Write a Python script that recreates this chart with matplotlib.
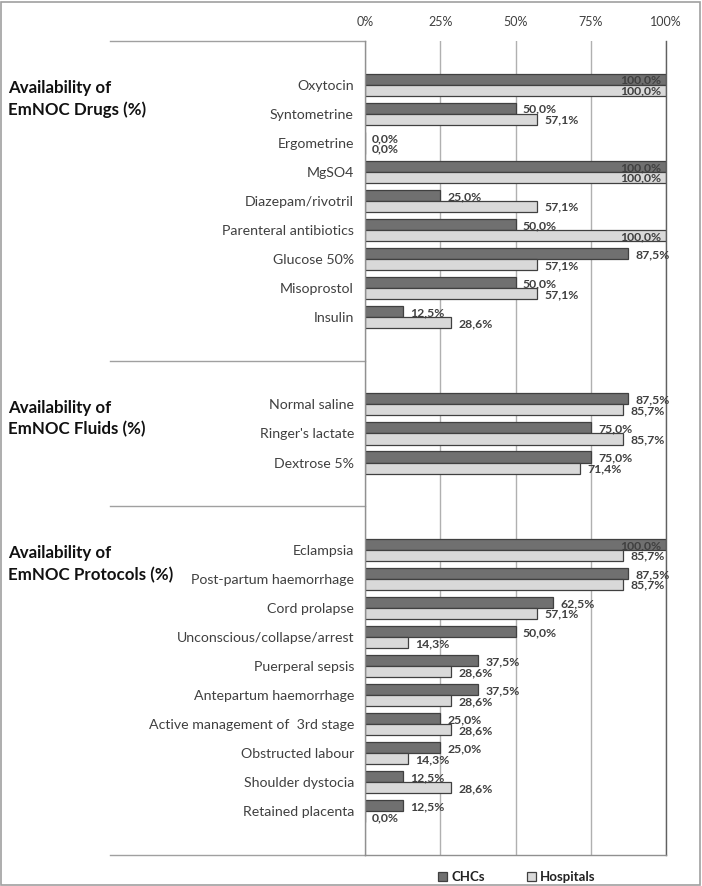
import matplotlib
matplotlib.use("Agg")
import matplotlib.pyplot as plt
from matplotlib.patches import Rectangle, Patch
from matplotlib.lines import Line2D

plt.rcParams['font.family'] = ['Lato', 'DejaVu Sans']

# ---- data ----
group_titles = ["Availability of\nEmNOC Drugs (%)",
                "Availability of\nEmNOC Fluids (%)",
                "Availability of\nEmNOC Protocols (%)"]

drugs = ["Oxytocin", "Syntometrine", "Ergometrine", "MgSO4", "Diazepam/rivotril",
         "Parenteral antibiotics", "Glucose 50%", "Misoprostol", "Insulin"]
drugs_chc = [100.0, 50.0, 0.0, 100.0, 25.0, 50.0, 87.5, 50.0, 12.5]
drugs_hosp = [100.0, 57.1, 0.0, 100.0, 57.1, 100.0, 57.1, 57.1, 28.6]

fluids = ["Normal saline", "Ringer's lactate", "Dextrose 5%"]
fluids_chc = [87.5, 75.0, 75.0]
fluids_hosp = [85.7, 85.7, 71.4]

protocols = ["Eclampsia", "Post-partum haemorrhage", "Cord prolapse",
             "Unconscious/collapse/arrest", "Puerperal sepsis", "Antepartum haemorrhage",
             "Active management of  3rd stage", "Obstructed labour", "Shoulder dystocia",
             "Retained placenta"]
protocols_chc = [100.0, 87.5, 62.5, 50.0, 37.5, 37.5, 25.0, 25.0, 12.5, 12.5]
protocols_hosp = [85.7, 85.7, 57.1, 14.3, 28.6, 28.6, 28.6, 14.3, 28.6, 0.0]

series_names = ["CHCs", "Hospitals"]
xticks = [0, 25, 50, 75, 100]
xtick_labels = ["0%", "25%", "50%", "75%", "100%"]

groups = [(drugs, drugs_chc, drugs_hosp),
          (fluids, fluids_chc, fluids_hosp),
          (protocols, protocols_chc, protocols_hosp)]

# ---- layout of slots ----
W, H = 702, 886
fig = plt.figure(figsize=(W / 100, H / 100), dpi=100)
ax_left, ax_right, ax_top, ax_bot = 365, 666, 41, 855
ax = fig.add_axes([ax_left / W, 1 - ax_bot / H, (ax_right - ax_left) / W, (ax_bot - ax_top) / H])

dark = "#707070"
light = "#d9d9d9"
edge = "#404040"
txt = "#404040"
bh = 0.38
vfs = 8.8


def fmt(v):
    return f"{v:.1f}%".replace(".", ",")


def label(v, yy):
    if v >= 99:
        ax.text(98.3, yy, fmt(v), ha="right", va="center",
                fontsize=vfs, fontweight="bold", color=txt)
    else:
        ax.text(v + 2.4, yy, fmt(v), ha="left", va="center",
                fontsize=vfs, fontweight="bold", color=txt)


slot = 1
separators = []
all_pos, all_lab = [], []
title_pos = []
for gi, (cats, chc, hosp) in enumerate(groups):
    pos = list(range(slot, slot + len(cats)))
    title_pos.append(pos[0] + 0.5)
    ax.barh([p - bh / 2 for p in pos], chc, height=bh, color=dark, edgecolor=edge, linewidth=0.9)
    ax.barh([p + bh / 2 for p in pos], hosp, height=bh, color=light, edgecolor=edge, linewidth=0.9)
    for p, v in zip(pos, chc):
        label(v, p - bh / 2 + 0.04)
    for p, v in zip(pos, hosp):
        label(v, p + bh / 2 + 0.03)
    all_pos += pos
    all_lab += cats
    slot = pos[-1] + 3
    if gi < len(groups) - 1:
        separators.append(pos[-1] + 1.5)

n_slots = slot - 1
ax.set_ylim(n_slots - 0.5, -0.5)
ax.set_xlim(0, 100)

ax.set_yticks(all_pos)
ax.set_yticklabels(all_lab, fontsize=10.2, color=txt)
ax.tick_params(axis="y", length=0, pad=8)

ax.xaxis.tick_top()
ax.set_xticks(xticks)
ax.set_xticklabels(xtick_labels, fontsize=9, color=txt)
ax.tick_params(axis="x", length=0, pad=9)
ax.grid(axis="x", color="#b0b0b0", linewidth=1.0)
ax.set_axisbelow(True)

ax.spines["top"].set_visible(False)
ax.spines["left"].set_color("#909090")
ax.spines["bottom"].set_color("#909090")
ax.spines["right"].set_color("#606060")
for s in ["left", "bottom", "right"]:
    ax.spines[s].set_linewidth(1.0)

# group separator lines extending into the label area
x0 = (110 - ax_left) / (ax_right - ax_left)
trans = ax.get_yaxis_transform()
for yv in [-0.5] + separators + [n_slots - 0.5]:
    ax.add_line(Line2D([x0, 0], [yv, yv], transform=trans, color="#a0a0a0",
                       linewidth=1.0, clip_on=False))

# group titles
tx = (8 - ax_left) / (ax_right - ax_left)
for t, yp in zip(group_titles, title_pos):
    ax.text(tx, yp, t, transform=trans, ha="left", va="center", fontsize=12.2,
            fontweight="bold", color="#111111", linespacing=1.4)

# legend
handles = [Patch(facecolor=dark, edgecolor=edge, linewidth=0.9),
           Patch(facecolor=light, edgecolor=edge, linewidth=0.9)]
leg = fig.legend(handles, series_names, loc="center", bbox_to_anchor=(0.736, 1 - 877 / H),
                 ncol=2, frameon=False, handlelength=0.7, handleheight=0.7,
                 handletextpad=0.3, columnspacing=3.2, prop={"weight": "bold", "size": 9.5})
for t in leg.get_texts():
    t.set_color("#222222")

# outer border
fig.patches.append(Rectangle((1 / W, 1 / H), (W - 3) / W, (H - 3) / H, transform=fig.transFigure,
                             fill=False, edgecolor="#a0a0a0", linewidth=1.2))

fig.savefig("out.png", dpi=100)
